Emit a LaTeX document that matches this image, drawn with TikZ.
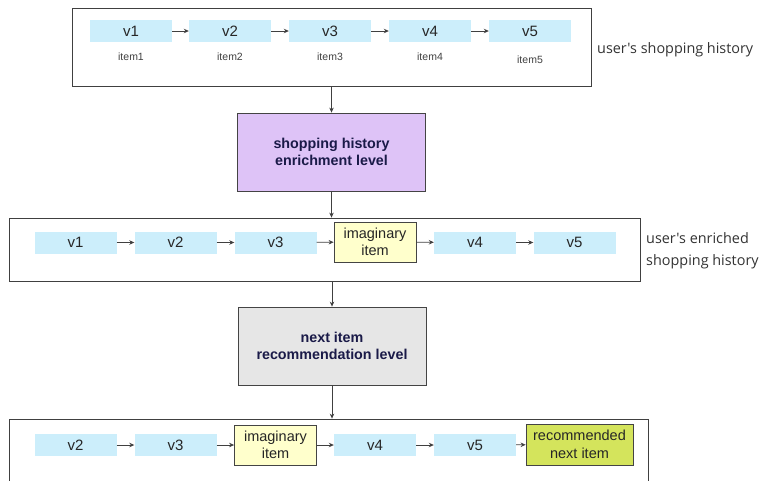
\documentclass[tikz,border=0pt]{standalone}
\usepackage{fontspec}
\setmainfont{Liberation Sans}
\newfontfamily\labelfont{Open Sans}
\usetikzlibrary{arrows.meta}
\definecolor{lblue}{HTML}{CCEEFB}
\definecolor{lpurple}{HTML}{DEC3F7}
\definecolor{lgray}{HTML}{E6E6E6}
\definecolor{lyellow}{HTML}{FFFFCC}
\definecolor{lgreen}{HTML}{D4E45C}
\definecolor{navy}{HTML}{1A1A48}
\definecolor{edge}{HTML}{444444}
\begin{document}
\begin{tikzpicture}[x=1pt,y=-1pt,
  vbox/.style={fill=lblue,minimum width=82pt,minimum height=22pt,inner sep=0pt,
    font=\fontsize{15}{17}\selectfont,text=black!85},
  ybox/.style={fill=lyellow,draw=edge,line width=0.8pt,minimum width=82pt,minimum height=40pt,inner sep=0pt,
    align=center,font=\fontsize{14.5}{17.5}\selectfont,text=black!85},
  gbox/.style={fill=lgreen,draw=edge,line width=0.8pt,minimum width=107pt,minimum height=41pt,inner sep=0pt,
    align=center,font=\fontsize{14.5}{17.5}\selectfont,text=black!85},
  itemlbl/.style={font=\fontsize{10.5}{12}\selectfont,text=black!75,inner sep=0pt},
  sidelbl/.style={font=\labelfont\fontsize{14.4}{22.5}\selectfont,text=black!80,inner sep=0pt,anchor=west,align=left},
  level/.style={draw=edge,line width=0.8pt,minimum width=188pt,minimum height=78pt,inner sep=0pt,
    align=center,font=\bfseries\fontsize{14.3}{17.5}\selectfont,text=navy},
  frame/.style={draw=black!75,line width=0.8pt},
  arr/.style={-{Stealth[length=5pt,width=4.5pt]},draw=black!75,line width=0.8pt}
]
\useasboundingbox (0,0) rectangle (763,480);
\clip (0,0) rectangle (763,480);

% top frame
\node[frame,minimum width=519pt,minimum height=78pt,inner sep=0pt] (top) at (331.5,47) {};
\node[vbox] (a1) at (131,31) {v1};
\node[vbox] (a2) at (230,31) {v2};
\node[vbox] (a3) at (330,31) {v3};
\node[vbox] (a4) at (430,31) {v4};
\node[vbox] (a5) at (530,31) {v5};
\node[itemlbl] (i1) at (131,57) {item1};
\node[itemlbl] (i2) at (230,57) {item2};
\node[itemlbl] (i3) at (330,57) {item3};
\node[itemlbl] (i4) at (430,57) {item4};
\node[itemlbl] (i5) at (530,60) {item5};
\foreach \p/\q in {a1/a2,a2/a3,a3/a4,a4/a5} \draw[arr] (\p) -- (\q);
\node[sidelbl] (l1) at (597,50) {user's shopping history};

% enrichment level
\node[level,fill=lpurple] (enr) at (331.5,152) {shopping history\\enrichment level};
\draw[arr] (enr.north |- top.south) -- (enr.north);

% middle frame
\node[frame,minimum width=631pt,minimum height=63pt,inner sep=0pt] (mid) at (324.5,249.5) {};
\node[vbox] (b1) at (75.5,242.5) {v1};
\node[vbox] (b2) at (175.5,242.5) {v2};
\node[vbox] (b3) at (275.5,242.5) {v3};
\node[ybox] (bi) at (375,242) {imaginary\\item};
\node[vbox] (b4) at (475,242.5) {v4};
\node[vbox] (b5) at (574.5,242.5) {v5};
\foreach \p/\q in {b1/b2,b2/b3,b3/bi,bi/b4,b4/b5} \draw[arr] (\p) -- (\q);
\draw[arr] (enr.south) -- (enr.south |- mid.north);
\node[sidelbl] (l2) at (646,251) {user's enriched\\shopping history};

% recommendation level
\node[level,fill=lgray] (rec) at (332,346) {next item\\recommendation level};
\draw[arr] (rec.north |- mid.south) -- (rec.north);

% bottom frame
\node[frame,minimum width=639pt,minimum height=80pt,inner sep=0pt] (bot) at (328.5,459) {};
\node[vbox] (c1) at (75.5,445) {v2};
\node[vbox] (c2) at (175.5,445) {v3};
\node[ybox] (ci) at (275.5,445) {imaginary\\item};
\node[vbox] (c3) at (375,445) {v4};
\node[vbox] (c4) at (475,445) {v5};
\node[gbox] (cr) at (579.5,444.5) {recommended\\next item};
\foreach \p/\q in {c1/c2,c2/ci,ci/c3,c3/c4,c4/cr} \draw[arr] (\p) -- (\q);
\draw[arr] (rec.south) -- (rec.south |- bot.north);
\end{tikzpicture}
\end{document}
